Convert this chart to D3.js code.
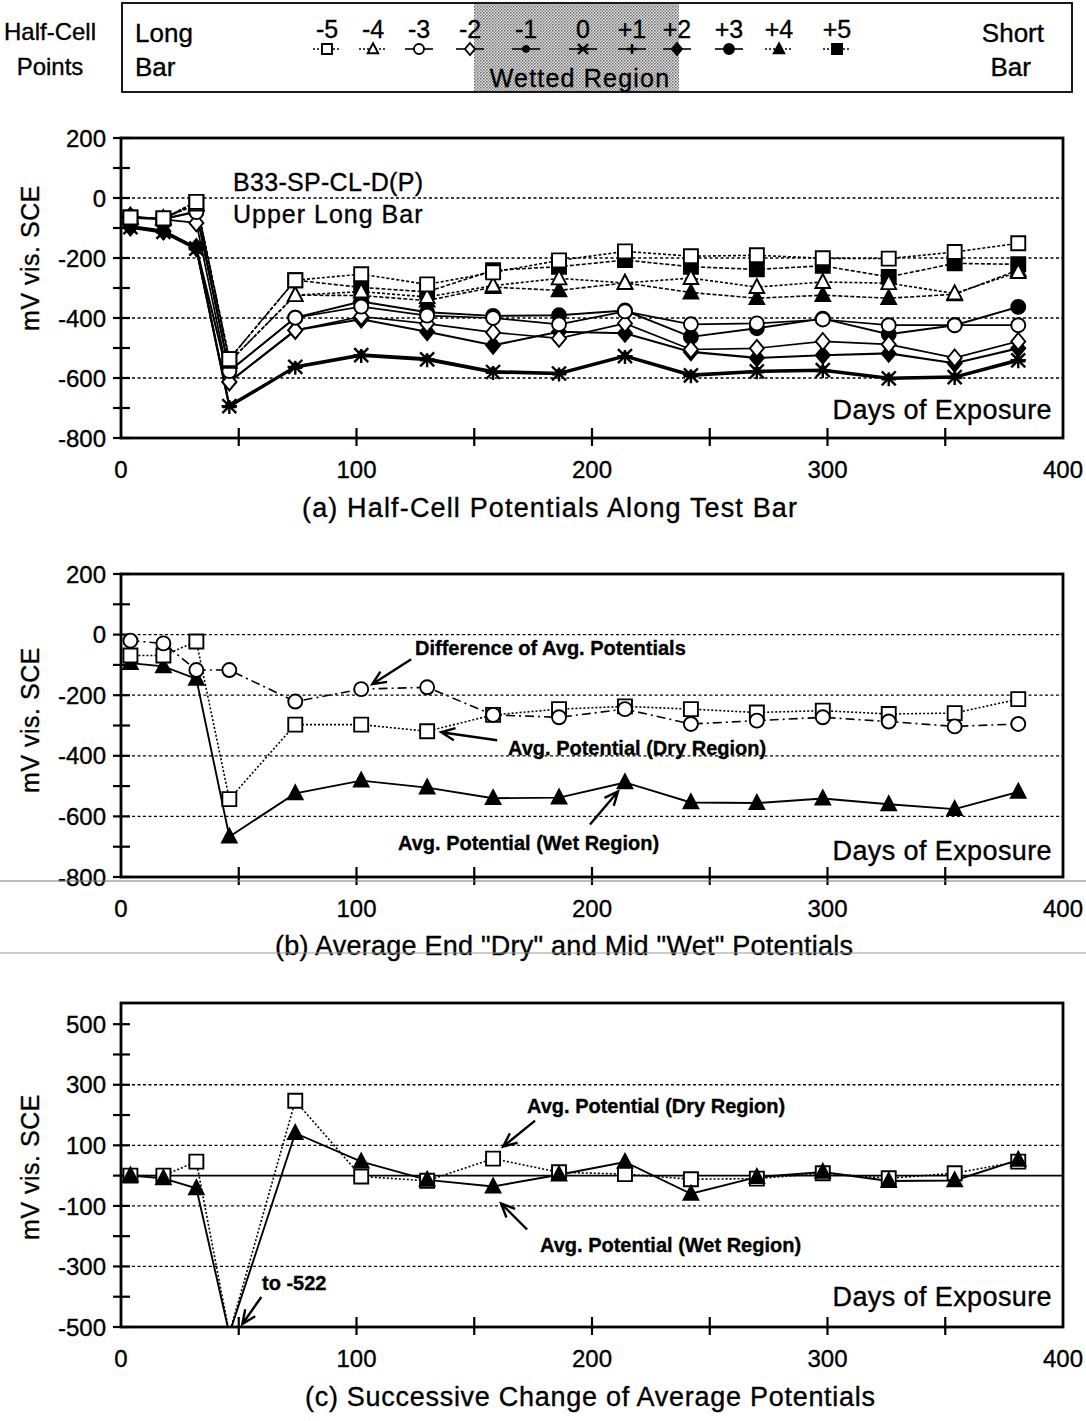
<!DOCTYPE html>
<html>
<head>
<meta charset="utf-8">
<script src="https://cdn.jsdelivr.net/npm/d3@7"></script>
<style>
  body { margin: 0; background: #fff; }
  svg text { font-family: "Liberation Sans", Arial, Helvetica, sans-serif; fill: #000; stroke: #000; stroke-width: 0.35px; }
</style>
</head>
<body>
<svg id="chart" width="1086" height="1421"></svg>
<script>
// ---- Exposure days shared by all three panels ----
const days = [4, 18, 32, 46, 74, 102, 130, 158, 186, 214, 242, 270, 298, 326, 354, 381];

// ---- (a) half-cell potentials at each point along the bar (mV) ----
const cellLabels = ["-5", "-4", "-3", "-2", "-1", "0", "+1", "+2", "+3", "+4", "+5"];
const cellM5 = [-65, -68, -13, -537, -274, -254, -288, -248, -208, -178, -194, -191, -201, -202, -180, -151];
const cellM4 = [-65, -68, -22, -546, -324, -312, -330, -292, -268, -283, -267, -297, -280, -284, -318, -247];
const cellM3 = [-66, -70, -47, -577, -399, -362, -392, -400, -421, -378, -421, -418, -405, -424, -424, -424];
const cellM2 = [-60, -71, -83, -613, -441, -395, -419, -448, -468, -418, -505, -501, -478, -488, -533, -478];
const cellM1 = [-93, -108, -165, -690, -560, -520, -534, -576, -582, -524, -587, -575, -571, -598, -594, -537];
const cellZ0 = [-97, -113, -169, -694, -563, -524, -538, -580, -585, -527, -591, -578, -574, -601, -597, -541];
const cellP1 = [-100, -116, -172, -697, -566, -527, -541, -583, -588, -530, -594, -581, -577, -604, -600, -544];
const cellP2 = [-97, -110, -165, -613, -441, -404, -446, -491, -446, -451, -513, -533, -524, -518, -551, -501];
const cellP3 = [-66, -70, -45, -577, -399, -345, -381, -393, -391, -375, -463, -434, -402, -454, -424, -363];
const cellP4 = [-65, -68, -20, -546, -324, -325, -342, -297, -308, -283, -315, -334, -324, -334, -321, -240];
const cellP5 = [-65, -68, -13, -537, -274, -298, -313, -241, -229, -207, -229, -238, -226, -263, -218, -221];

// ---- (b) average potentials of the dry ends and the wet middle (mV) ----
const avgDry  = [-69, -69, -23, -543, -297, -297, -319, -265, -246, -237, -246, -257, -251, -262, -259, -213];
const avgWet  = [-94, -105, -146, -667, -524, -482, -505, -540, -538, -488, -554, -556, -541, -560, -576, -519];
const avgDiff = [-20, -29, -117, -117, -221, -180, -174, -265, -273, -246, -295, -284, -273, -287, -303, -295];

// ---- (c) successive change of the average potentials (mV) ----
const chgDry = [0, 0, 46, -522, 247, -3, -17, 56, 11, 5, -12, -10, 8, -9, 8, 46];
const chgWet = [0, -9, -42, -522, 140, 46, -14, -36, 3, 45, -60, -5, 12, -18, -16, 52];

// ---- axis ticks ----
const xLabelTicks = [0, 100, 200, 300, 400];
const xMinorTicks = [50, 100, 150, 200, 250, 300, 350];
const yLabelsAB = [200, 0, -200, -400, -600, -800];
const yLabelsC = [500, 300, 100, -100, -300, -500];

// ---------------------------------------------------------------
const svg = d3.select("#chart");
const X0 = 121, X1 = 1063;
const x = d3.scaleLinear().domain([0, 400]).range([X0, X1]);

// marker outlines centred on the origin
function shapePath(shape, s) {
  const h = s / 2;
  switch (shape) {
    case "square": return `M${-h},${-h}h${s}v${s}h${-s}Z`;
    case "triangle": return `M0,${-h * 1.15}L${h * 1.05},${h * 0.85}L${-h * 1.05},${h * 0.85}Z`;
    case "diamond": return `M0,${-h * 1.2}L${h},0L0,${h * 1.2}L${-h},0Z`;
    case "circle": return d3.symbol(d3.symbolCircle, Math.PI * h * h)();
    case "dot": return d3.symbol(d3.symbolCircle, Math.PI * 9)();
    case "asterisk": return `M${-h},${-h}L${h},${h}M${-h},${h}L${h},${-h}M${-h * 1.1},0L${h * 1.1},0`;
    case "plus": return `M${-h},0H${h}M0,${-h}V${h}`;
  }
}
function drawMarker(g, spec, cx, cy, size) {
  const stroked = spec.shape === "asterisk" || spec.shape === "plus";
  g.append("path")
    .attr("d", shapePath(spec.shape, size))
    .attr("transform", `translate(${cx},${cy})`)
    .attr("fill", stroked ? "none" : (spec.filled ? "#000" : "#fff"))
    .attr("stroke", "#000")
    .attr("stroke-width", stroked ? 2.4 : 1.9);
}

function arrow(g, x1, y1, x2, y2) {
  const ang = Math.atan2(y2 - y1, x2 - x1), L = 15, spread = 0.42;
  g.append("path")
    .attr("d", `M${x1},${y1}L${x2},${y2}` +
      `M${x2 - L * Math.cos(ang - spread)},${y2 - L * Math.sin(ang - spread)}L${x2},${y2}` +
      `L${x2 - L * Math.cos(ang + spread)},${y2 - L * Math.sin(ang + spread)}`)
    .attr("fill", "none").attr("stroke", "#000").attr("stroke-width", 2.4);
}

// frame, ticks, grid, labels of one panel; returns its y scale and drawing layers
function panel(id, opt) {
  const y = d3.scaleLinear().domain(opt.domain).range([opt.bottom, opt.top]);
  const g = svg.append("g");
  g.append("clipPath").attr("id", id).append("rect")
    .attr("x", X0).attr("y", opt.top).attr("width", X1 - X0).attr("height", opt.bottom - opt.top);

  // dashed gridlines
  g.selectAll(null).data(opt.grid).join("line")
    .attr("x1", X0).attr("x2", X1).attr("y1", d => y(d)).attr("y2", d => y(d))
    .attr("stroke", "#000").attr("stroke-width", 1.3).attr("stroke-dasharray", "3,2.5");
  if (opt.zeroLine) {
    g.append("line").attr("x1", X0).attr("x2", X1).attr("y1", y(0)).attr("y2", y(0))
      .attr("stroke", "#000").attr("stroke-width", 1.8);
  }
  // y ticks every 100 mV crossing the axis
  const yMinor = d3.range(Math.ceil(opt.domain[0] / 100) * 100, opt.domain[1] + 1, 100);
  g.selectAll(null).data(yMinor).join("line")
    .attr("x1", X0 - 8).attr("x2", X0 + 9).attr("y1", d => y(d)).attr("y2", d => y(d))
    .attr("stroke", "#000").attr("stroke-width", 2.2);
  // x ticks every 50 days crossing the bottom axis
  g.selectAll(null).data(xMinorTicks).join("line")
    .attr("x1", d => x(d)).attr("x2", d => x(d)).attr("y1", opt.bottom - 10).attr("y2", opt.bottom + 8)
    .attr("stroke", "#000").attr("stroke-width", 2.2);
  // frame
  g.append("rect").attr("x", X0).attr("y", opt.top).attr("width", X1 - X0).attr("height", opt.bottom - opt.top)
    .attr("fill", "none").attr("stroke", "#000").attr("stroke-width", 2.8);

  // tick labels
  g.selectAll(null).data(opt.yLabels).join("text")
    .attr("x", 106).attr("y", d => y(d)).attr("dy", "0.36em").attr("text-anchor", "end")
    .attr("font-size", 24).text(d => d);
  g.selectAll(null).data(xLabelTicks).join("text")
    .attr("x", d => x(d)).attr("y", opt.bottom + 40).attr("text-anchor", "middle")
    .attr("font-size", 24).text(d => d);

  // axis title, in-plot label and caption
  g.append("text").attr("transform", `translate(39,${opt.titleY}) rotate(-90)`)
    .attr("text-anchor", "middle").attr("font-size", 25).attr("letter-spacing", 0.5).text("mV vis. SCE");
  g.append("text").attr("x", 1052).attr("y", opt.daysY).attr("text-anchor", "end")
    .attr("font-size", 27).attr("letter-spacing", 0.4).text("Days of Exposure");
  g.append("text").attr("x", opt.captionX).attr("y", opt.captionY)
    .attr("font-size", 27).attr("textLength", opt.captionW).attr("lengthAdjust", "spacing")
    .text(opt.caption);

  const layer = svg.append("g").attr("clip-path", `url(#${id})`);
  const marks = svg.append("g");
  return { y, layer, marks, g };
}

function series(P, values, spec, size) {
  const line = d3.line().x((d, i) => x(days[i])).y(d => P.y(d));
  P.layer.append("path").datum(values).attr("d", line)
    .attr("fill", "none").attr("stroke", "#000")
    .attr("stroke-width", spec.width || 1.7)
    .attr("stroke-dasharray", spec.dash || null);
  const [lo, hi] = P.y.domain();
  values.forEach((v, i) => {
    if (v >= lo && v <= hi) drawMarker(P.marks, spec, x(days[i]), P.y(v), size);
  });
}

// ================= legend =================
const cellSeries = [
  { values: cellM5, shape: "square",   filled: false, dash: "3,2", width: 1.6 },
  { values: cellM4, shape: "triangle", filled: false, dash: "3,2", width: 1.6 },
  { values: cellM3, shape: "circle",   filled: false, dash: null },
  { values: cellM2, shape: "diamond",  filled: false, dash: null },
  { values: cellM1, shape: "dot",      filled: true,  dash: null },
  { values: cellZ0, shape: "asterisk", filled: false, dash: null, width: 2.1 },
  { values: cellP1, shape: "plus",     filled: false, dash: null },
  { values: cellP2, shape: "diamond",  filled: true,  dash: null, width: 2.1 },
  { values: cellP3, shape: "circle",   filled: true,  dash: null, width: 1.9 },
  { values: cellP4, shape: "triangle", filled: true,  dash: "4,2", width: 1.6 },
  { values: cellP5, shape: "square",   filled: true,  dash: "4,2", width: 1.6 }
];
const legendX = [327, 373, 419, 470, 526, 583, 632, 677, 729, 779, 837];

const defs = svg.append("defs");
const pat = defs.append("pattern").attr("id", "halftone").attr("width", 3).attr("height", 3)
  .attr("patternUnits", "userSpaceOnUse");
pat.append("rect").attr("width", 3).attr("height", 3).attr("fill", "#e2e2e2");
pat.append("rect").attr("width", 1.5).attr("height", 1.5).attr("fill", "#6a6a6a");
pat.append("rect").attr("x", 1.5).attr("y", 1.5).attr("width", 1.5).attr("height", 1.5).attr("fill", "#8a8a8a");

const lg = svg.append("g");
lg.append("rect").attr("x", 474).attr("y", 4).attr("width", 205).attr("height", 87).attr("fill", "url(#halftone)");
lg.append("rect").attr("x", 122).attr("y", 3).attr("width", 950).attr("height", 89)
  .attr("fill", "none").attr("stroke", "#000").attr("stroke-width", 1.8);
lg.append("text").attr("x", 50).attr("y", 40).attr("text-anchor", "middle").attr("font-size", 24).text("Half-Cell");
lg.append("text").attr("x", 50).attr("y", 75).attr("text-anchor", "middle").attr("font-size", 24).text("Points");
lg.append("text").attr("x", 135).attr("y", 42).attr("font-size", 26).text("Long");
lg.append("text").attr("x", 135).attr("y", 76).attr("font-size", 26).text("Bar");
lg.append("text").attr("x", 1044).attr("y", 42).attr("text-anchor", "end").attr("font-size", 26).text("Short");
lg.append("text").attr("x", 1031).attr("y", 76).attr("text-anchor", "end").attr("font-size", 26).text("Bar");
lg.append("text").attr("x", 580).attr("y", 87).attr("text-anchor", "middle").attr("font-size", 25)
  .attr("letter-spacing", 1.2).text("Wetted Region");
cellSeries.forEach((s, i) => {
  const cx = legendX[i];
  lg.append("text").attr("x", cx).attr("y", 38).attr("text-anchor", "middle").attr("font-size", 25).text(cellLabels[i]);
  lg.append("line").attr("x1", cx - 14).attr("x2", cx + 14).attr("y1", 49).attr("y2", 49)
    .attr("stroke", "#000").attr("stroke-width", 1.6).attr("stroke-dasharray", s.dash ? "2,2" : null);
  drawMarker(lg, s, cx, 49, 10);
});

// ================= panel (a) =================
const PA = panel("clipA", {
  top: 138, bottom: 438, domain: [-800, 200], grid: [0, -200, -400, -600],
  yLabels: yLabelsAB, titleY: 258, daysY: 419,
  caption: "(a) Half-Cell Potentials Along Test Bar", captionX: 302, captionY: 517, captionW: 495
});
PA.g.append("text").attr("x", 233).attr("y", 191).attr("font-size", 25).attr("letter-spacing", 0.3).text("B33-SP-CL-D(P)");
PA.g.append("text").attr("x", 233).attr("y", 223).attr("font-size", 25).attr("letter-spacing", 1).text("Upper Long Bar");
// the short-bar end is drawn first so the open long-bar markers sit on top
cellSeries.slice().reverse().forEach(s => series(PA, s.values, s, 14));

// ================= panel (b) =================
const PB = panel("clipB", {
  top: 574, bottom: 877, domain: [-800, 200], grid: [0, -200, -400, -600],
  yLabels: yLabelsAB, titleY: 720, daysY: 860,
  caption: "(b) Average End \"Dry\" and Mid \"Wet\" Potentials", captionX: 275, captionY: 955, captionW: 578
});
series(PB, avgWet, { shape: "triangle", filled: true, width: 1.9 }, 14);
series(PB, avgDry, { shape: "square", filled: false, dash: "2,2", width: 1.6 }, 14);
series(PB, avgDiff, { shape: "circle", filled: false, dash: "9,4,2,4", width: 1.6 }, 14);

const ib = days.indexOf(102), ib2 = days.indexOf(130), ib3 = days.indexOf(214);
PB.g.append("text").attr("x", 415).attr("y", 655).attr("font-size", 20).attr("font-weight", "bold").text("Difference of Avg. Potentials");
arrow(PB.g, x(days[ib]) + 50, PB.y(avgDiff[ib]) - 30, x(days[ib]) + 11, PB.y(avgDiff[ib]) - 5);
PB.g.append("text").attr("x", 508).attr("y", 755).attr("font-size", 20).attr("font-weight", "bold").text("Avg. Potential (Dry Region)");
arrow(PB.g, x(days[ib2]) + 70, PB.y(avgDry[ib2]) + 9, x(days[ib2]) + 14, PB.y(avgDry[ib2]) + 1);
PB.g.append("text").attr("x", 398).attr("y", 850).attr("font-size", 20).attr("font-weight", "bold").text("Avg. Potential (Wet Region)");
arrow(PB.g, x(days[ib3]) - 35, PB.y(avgWet[ib3]) + 42, x(days[ib3]) - 7, PB.y(avgWet[ib3]) + 9);

// ================= panel (c) =================
const chgAxisMax = 570;
const PC = panel("clipC", {
  top: 1003, bottom: 1327, domain: [-500, chgAxisMax], grid: [300, 100, -100, -300],
  yLabels: yLabelsC, zeroLine: true, titleY: 1167, daysY: 1306,
  caption: "(c) Successive Change of  Average Potentials", captionX: 305, captionY: 1406, captionW: 570
});
series(PC, chgDry, { shape: "square", filled: false, dash: "2,2", width: 1.6 }, 14);
series(PC, chgWet, { shape: "triangle", filled: true, width: 1.9 }, 14);

const ic = days.indexOf(158), ic46 = days.indexOf(46);
PC.g.append("text").attr("x", 527).attr("y", 1113).attr("font-size", 20).attr("font-weight", "bold").text("Avg. Potential (Dry Region)");
arrow(PC.g, x(days[ic]) + 42, PC.y(chgDry[ic]) - 38, x(days[ic]) + 10, PC.y(chgDry[ic]) - 12);
PC.g.append("text").attr("x", 540).attr("y", 1252).attr("font-size", 20).attr("font-weight", "bold").text("Avg. Potential (Wet Region)");
arrow(PC.g, x(days[ic]) + 34, PC.y(chgWet[ic]) + 43, x(days[ic]) + 8, PC.y(chgWet[ic]) + 17);
PC.g.append("text").attr("x", 262).attr("y", 1290).attr("font-size", 20).attr("font-weight", "bold").text("to -522");
arrow(PC.g, x(days[ic46]) + 32, PC.y(-500) - 30, x(days[ic46]) + 13, PC.y(-500) - 3);

// faint page rules crossing the sheet
svg.append("line").attr("x1", 0).attr("x2", 1086).attr("y1", 881).attr("y2", 881)
  .attr("stroke", "#777").attr("stroke-width", 1);
svg.append("line").attr("x1", 0).attr("x2", 1086).attr("y1", 953).attr("y2", 953)
  .attr("stroke", "#999").attr("stroke-width", 1);
</script>
</body>
</html>
